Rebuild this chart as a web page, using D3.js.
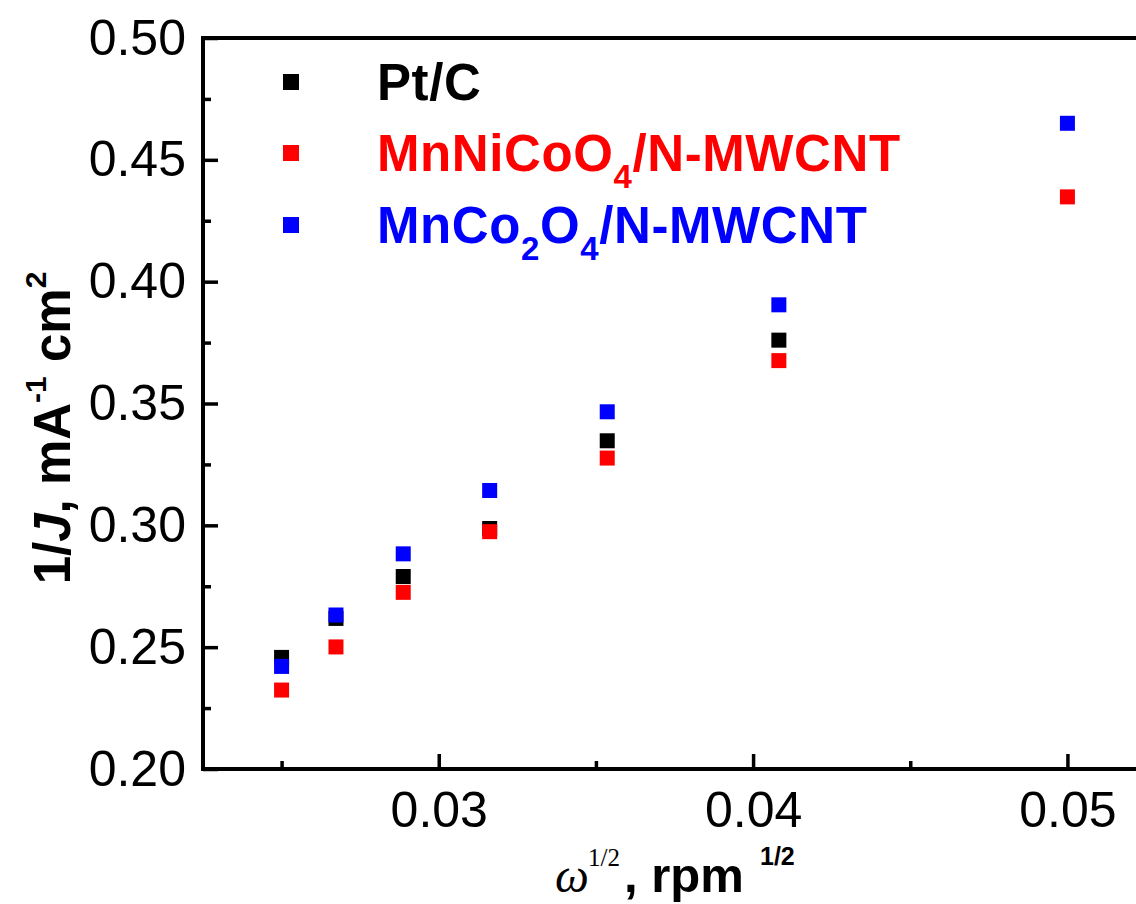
<!DOCTYPE html>
<html>
<head>
<meta charset="utf-8">
<script src="https://cdn.jsdelivr.net/npm/d3@7"></script>
<style>
	html, body { margin: 0; padding: 0; background: #fff; overflow: hidden; }
	svg { display: block; }
</style>
</head>
<body>
<div id="chart"></div>
<script>

// omega^-1/2 values (1600 .. 400 rpm)
const xValues = [0.025, 0.02673, 0.02887, 0.03162, 0.03536, 0.04082, 0.05];

const ptcValues = [0.2458, 0.2618, 0.2790, 0.2987, 0.3347, 0.3760];
const mnNiCoValues = [0.2324, 0.2501, 0.2725, 0.2974, 0.3276, 0.3676, 0.4348];
const mnCoValues = [0.2421, 0.2632, 0.2883, 0.3143, 0.3466, 0.3905, 0.4650];

const seriesNames = ["Pt/C", "MnNiCoO4/N-MWCNT", "MnCo2O4/N-MWCNT"];
const seriesColors = ["#000000", "#ff0000", "#0000ff"];

const xMajorTicks = [0.03, 0.04, 0.05];
const xMinorTicks = [0.025, 0.035, 0.045];
const yMajorTicks = [0.20, 0.25, 0.30, 0.35, 0.40, 0.45, 0.50];
const yMinorTicks = [0.225, 0.275, 0.325, 0.375, 0.425, 0.475];

const width = 1136, height = 904;
const frame = { left : 203, top : 38, bottom : 769, right : 1146 };

const sans = "'Liberation Sans', Arial, sans-serif";
const serif = "'Liberation Serif', 'Times New Roman', serif";

const svg = d3.select("#chart").append("svg")
	.attr("width", width)
	.attr("height", height);

const x = d3.scaleLinear().domain([0.0225, 0.0525]).range([frame.left, frame.right]);
const y = d3.scaleLinear().domain([0.20, 0.50]).range([frame.bottom, frame.top]);

// data points, drawn black then red then blue (blue ends up on top)
const series = [ptcValues, mnNiCoValues, mnCoValues];
const size = 15;

series.forEach((vals, s) => {
	svg.append("g")
		.selectAll("rect")
		.data(vals)
		.enter()
		.append("rect")
		.attr("x", (d, i) => x(xValues[i]) - size / 2)
		.attr("y", d => y(d) - size / 2)
		.attr("width", size)
		.attr("height", size)
		.attr("fill", seriesColors[s]);
});

// axes, ticks pointing inward
const axisStyle = g => {
	g.select(".domain").remove();
	g.selectAll(".tick line").attr("stroke", "#000").attr("stroke-width", 3.5);
	g.selectAll("text").attr("font-family", sans).attr("font-size", 50).attr("fill", "#000");
};

svg.append("g")
	.attr("transform", `translate(0,${frame.bottom})`)
	.call(d3.axisBottom(x).tickValues(xMajorTicks).tickSize(-15).tickPadding(22).tickFormat(d3.format(".2f")))
	.call(axisStyle);

svg.append("g")
	.attr("transform", `translate(0,${frame.bottom})`)
	.call(d3.axisBottom(x).tickValues(xMinorTicks).tickSize(-8).tickFormat(""))
	.call(axisStyle);

svg.append("g")
	.attr("transform", `translate(${frame.left},0)`)
	.call(d3.axisLeft(y).tickValues(yMajorTicks).tickSize(-15).tickPadding(17).tickFormat(d3.format(".2f")))
	.call(axisStyle);

svg.append("g")
	.attr("transform", `translate(${frame.left},0)`)
	.call(d3.axisLeft(y).tickValues(yMinorTicks).tickSize(-8).tickFormat(""))
	.call(axisStyle);

// frame lines (right side runs off the picture)
svg.append("path")
	.attr("d", `M${frame.left},${frame.top}H${width + 10}M${frame.left},${frame.top - 2}V${frame.bottom}H${width + 10}`)
	.attr("fill", "none")
	.attr("stroke", "#000")
	.attr("stroke-width", 4);

// legend
const legendX = 291, legendTextX = 377;
const legendRows = [82, 153, 225];

const legendParts = [
	[["Pt/C", 0]],
	[["MnNiCoO", 0], ["4", 1], ["/N-MWCNT", 0]],
	[["MnCo", 0], ["2", 1], ["O", 0], ["4", 1], ["/N-MWCNT", 0]]
];

legendRows.forEach((ry, i) => {
	svg.append("rect")
		.attr("x", legendX - 8)
		.attr("y", ry - 8)
		.attr("width", 16)
		.attr("height", 16)
		.attr("fill", seriesColors[i]);

	const t = svg.append("text")
		.attr("x", legendTextX)
		.attr("y", ry + 18)
		.attr("font-family", sans)
		.attr("font-weight", "bold")
		.attr("font-size", 51)
		.attr("letter-spacing", 0.6)
		.attr("fill", seriesColors[i]);

	let sub = 0;
	legendParts[i].forEach(p => {
		const dy = p[1] === sub ? 0 : (p[1] ? 17 : -17);
		sub = p[1];
		t.append("tspan")
			.attr("dy", dy)
			.attr("font-size", p[1] ? 33 : 51)
			.text(p[0]);
	});
});

// x axis title
const xt = svg.append("text").attr("fill", "#000");
xt.append("tspan").attr("x", 555).attr("y", 892)
	.attr("font-family", serif).attr("font-style", "italic").attr("font-size", 48).text("ω");
xt.append("tspan").attr("x", 588).attr("y", 866)
	.attr("font-family", serif).attr("font-size", 25).text("1/2");
xt.append("tspan").attr("x", 624).attr("y", 892)
	.attr("font-family", sans).attr("font-weight", "bold").attr("font-size", 49).text(", rpm");
xt.append("tspan").attr("x", 760).attr("y", 865)
	.attr("font-family", sans).attr("font-weight", "bold").attr("font-size", 25).text("1/2");

// y axis title
const yt = svg.append("text")
	.attr("transform", "translate(70,428) rotate(-90)")
	.attr("text-anchor", "middle")
	.attr("font-family", sans)
	.attr("font-weight", "bold")
	.attr("font-size", 51)
	.attr("fill", "#000");
yt.append("tspan").text("1/");
yt.append("tspan").attr("font-style", "italic").text("J");
yt.append("tspan").text(", mA");
yt.append("tspan").attr("font-size", 30).attr("dy", -24).text("-1");
yt.append("tspan").attr("dy", 24).text(" cm");
yt.append("tspan").attr("font-size", 30).attr("dy", -24).text("2");

</script>
</body>
</html>
